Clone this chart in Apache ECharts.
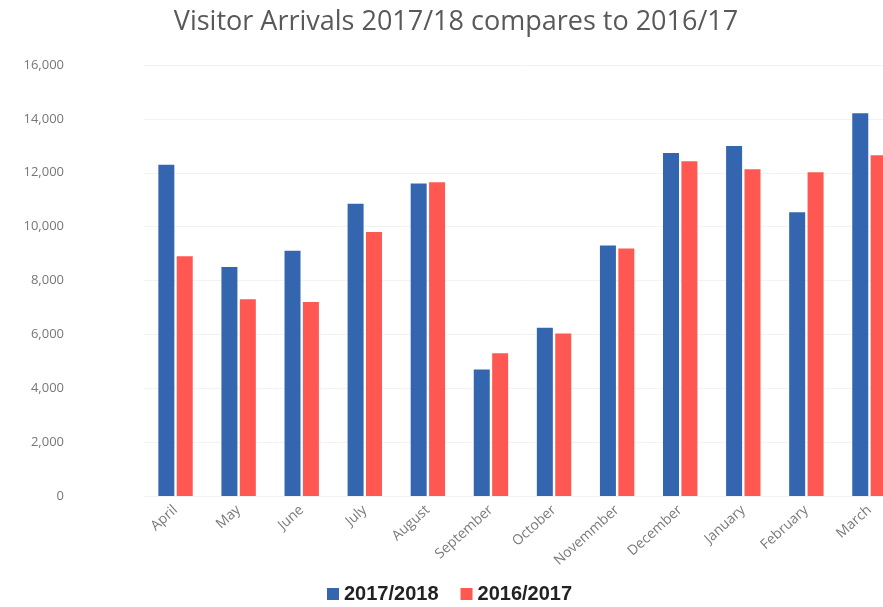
<!DOCTYPE html>
<html>
<head>
<meta charset="utf-8">
<style>
  html, body { margin: 0; padding: 0; background: #fff; overflow: hidden; }
  #chart { width: 901px; height: 607px; }
</style>
<script src="https://cdn.jsdelivr.net/npm/echarts@6/dist/echarts.min.js"></script>
</head>
<body>
<div id="chart"></div>
<script>
// data
const months = ["April", "May", "June", "July", "August", "September", "October",
  "Novemmber", "December", "January", "February", "March"]
const arrivals1718 = [12300, 8500, 9100, 10850, 11600, 4700, 6250, 9300, 12730, 12990, 10530, 14210]
const arrivals1617 = [8900, 7300, 7200, 9800, 11650, 5300, 6030, 9190, 12430, 12130, 12020, 12650]
const seriesNames = ["2017/2018", "2016/2017"]
const yTicks = [0, 2000, 4000, 6000, 8000, 10000, 12000, 14000, 16000]

// the source image is cropped on the right, so the canvas is a bit wider than the window
const myChart = echarts.init(document.getElementById("chart"))

const option = {
  animation: false,
  title: {
    text: "Visitor Arrivals 2017/18 compares to 2016/17",
    left: 451,
    textAlign: "center",
    top: 4,
    textStyle: {
      color: "#595959",
      fontFamily: "Open Sans",
      fontWeight: "normal",
      fontSize: 27,
    },
  },
  legend: {
    data: seriesNames,
    bottom: -2,
    left: 322,
    itemWidth: 12,
    itemHeight: 12,
    itemGap: 22,
    icon: "rect",
    textStyle: {
      color: "#222",
      fontWeight: "bold",
      fontSize: 20,
      fontFamily: "Liberation Sans",
    },
  },
  grid: {
    left: 144,
    right: 0,
    top: 65,
    bottom: 111,
  },
  xAxis: {
    type: "category",
    data: months,
    axisLine: { show: false },
    axisTick: { show: false },
    axisLabel: {
      rotate: 42,
      interval: 0,
      margin: 12,
      color: "#7a7a7a",
      fontSize: 14,
      fontFamily: "Open Sans",
    },
  },
  yAxis: {
    type: "value",
    min: yTicks[0],
    max: yTicks[yTicks.length - 1],
    interval: 2000,
    axisLine: { show: false },
    axisTick: { show: false },
    splitLine: { lineStyle: { color: "#f3f3f3" } },
    axisLabel: {
      margin: 80,
      color: "#777",
      fontSize: 13,
      fontFamily: "Open Sans",
      formatter: (v) => v.toLocaleString("en-US"),
    },
  },
  series: [
    {
      name: seriesNames[0],
      type: "bar",
      data: arrivals1718,
      barWidth: 16,
      barGap: "15%",
      itemStyle: { color: "#3466b0" },
    },
    {
      name: seriesNames[1],
      type: "bar",
      data: arrivals1617,
      barWidth: 16,
      itemStyle: { color: "#ff5852" },
    },
  ],
}

myChart.setOption(option)
</script>
</body>
</html>
